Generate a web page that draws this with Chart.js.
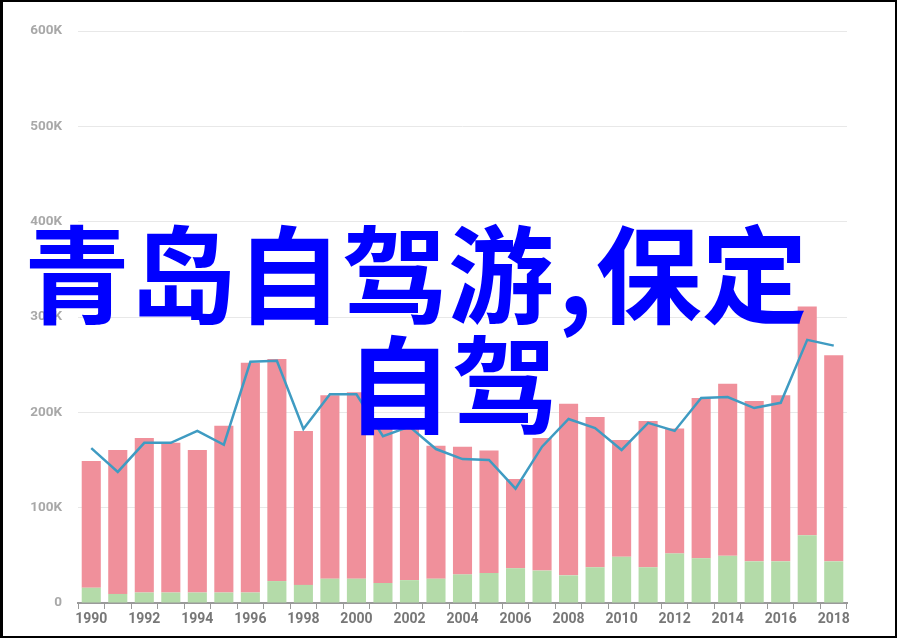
<!DOCTYPE html>
<html>
<head>
<meta charset="utf-8">
<script src="https://cdn.jsdelivr.net/npm/chart.js@4.4.0/dist/chart.umd.min.js"></script>
<style>
    html, body { margin: 0; padding: 0; background: #fff; }
    #wrap { position: relative; width: 897px; height: 638px; overflow: hidden; }
    #chart { position: absolute; left: 0; top: 0; }
    #frame {
        position: absolute; left: 0; top: 0; width: 897px; height: 638px;
        box-sizing: border-box; border: 2px solid #000; border-left-width: 3px;
        pointer-events: none;
    }
    .overlay {
        position: absolute; color: #0000ff; white-space: nowrap;
        font-family: "Noto Sans CJK SC", sans-serif; font-weight: 700;
        font-size: 106px; line-height: 1;
    }
    .comma { padding: 0 3px 0 4px; }
</style>
</head>
<body>
<div id="wrap">
    <canvas id="chart" width="897" height="638"></canvas>
    <div class="overlay" style="left:24px; top:216px;">青岛自驾游<span class="comma">,</span>保定</div>
    <div class="overlay" style="left:346px; top:326px;">自驾</div>
    <div id="frame"></div>
</div>
<script>
// Anos (eixo x)
const years = [
    '1990', '1991', '1992', '1993', '1994', '1995', '1996', '1997', '1998', '1999',
    '2000', '2001', '2002', '2003', '2004', '2005', '2006', '2007', '2008', '2009',
    '2010', '2011', '2012', '2013', '2014', '2015', '2016', '2017', '2018'
];

// Valores em milhares (K)
const greenValues = [
    16, 9.5, 11, 11, 11, 11, 11, 23, 19, 25.5,
    25.5, 21, 24, 25.5, 30, 31.5, 36.5, 34, 29, 37.5,
    48.5, 37.5, 52, 47, 49.5, 43.7, 43.7, 71, 43.7
];
const pinkValues = [
    133, 151, 162, 157, 149.5, 175, 241, 233, 161.5, 192.5,
    195.5, 164, 170, 139.5, 134, 128.5, 93.5, 139, 180, 157.5,
    122.5, 153.5, 131, 168, 180.5, 168.3, 174.3, 240, 216.3
];
const lineValues = [
    162.5, 137.5, 168, 168, 180.5, 166, 253, 254, 182.5, 219,
    219, 175, 185, 161.5, 151, 150, 120, 164, 193, 183.5,
    160.5, 189, 180.5, 215, 216, 204.5, 210, 276, 270
];

// Ticks do eixo y
const yTicks = [0, 100, 200, 300, 400, 500, 600];

const ctx = document.getElementById('chart').getContext('2d');

new Chart(ctx, {
    type: 'bar',
    data: {
        labels: years,
        datasets: [
            {
                type: 'line',
                data: lineValues,
                stack: 'line',
                borderColor: '#3f9bc2',
                borderWidth: 2.5,
                pointRadius: 0,
                tension: 0,
                order: 0
            },
            {
                data: greenValues,
                stack: 'bars',
                backgroundColor: '#b4dba9',
                borderWidth: 0,
                order: 1
            },
            {
                data: pinkValues,
                stack: 'bars',
                backgroundColor: '#f0909b',
                borderWidth: 0,
                order: 1
            }
        ]
    },
    options: {
        responsive: false,
        animation: false,
        layout: { padding: { top: 31, right: 50, bottom: 0, left: 0 } },
        datasets: {
            bar: { barPercentage: 0.72, categoryPercentage: 1 }
        },
        scales: {
            x: {
                stacked: true,
                grid: {
                    display: true,
                    drawOnChartArea: false,
                    drawTicks: true,
                    tickLength: 6,
                    color: '#9a9a9a'
                },
                border: { display: true, color: '#9a9a9a', width: 2 },
                ticks: {
                    autoSkip: false,
                    maxRotation: 0,
                    padding: 2,
                    color: '#777',
                    font: { family: 'Roboto', size: 14, weight: 'bold' },
                    callback: function(value, index) {
                        return index % 2 === 0 ? years[index] : '';
                    }
                },
                afterFit: function(scale) { scale.height = 35; }
            },
            y: {
                stacked: true,
                min: 0,
                max: 600,
                afterBuildTicks: function(scale) {
                    scale.ticks = yTicks.map(v => ({ value: v }));
                },
                grid: { color: '#e8e8e8', lineWidth: 1, drawTicks: false },
                border: { display: false },
                ticks: {
                    padding: 16,
                    color: '#a8a8a8',
                    font: { family: 'Roboto', size: 13.5, weight: 'bold' },
                    callback: function(value) {
                        return value === 0 ? '0' : value + 'K';
                    }
                },
                afterFit: function(scale) { scale.width = 78; }
            }
        },
        plugins: {
            legend: { display: false },
            tooltip: { enabled: false }
        }
    }
});
</script>
</body>
</html>
